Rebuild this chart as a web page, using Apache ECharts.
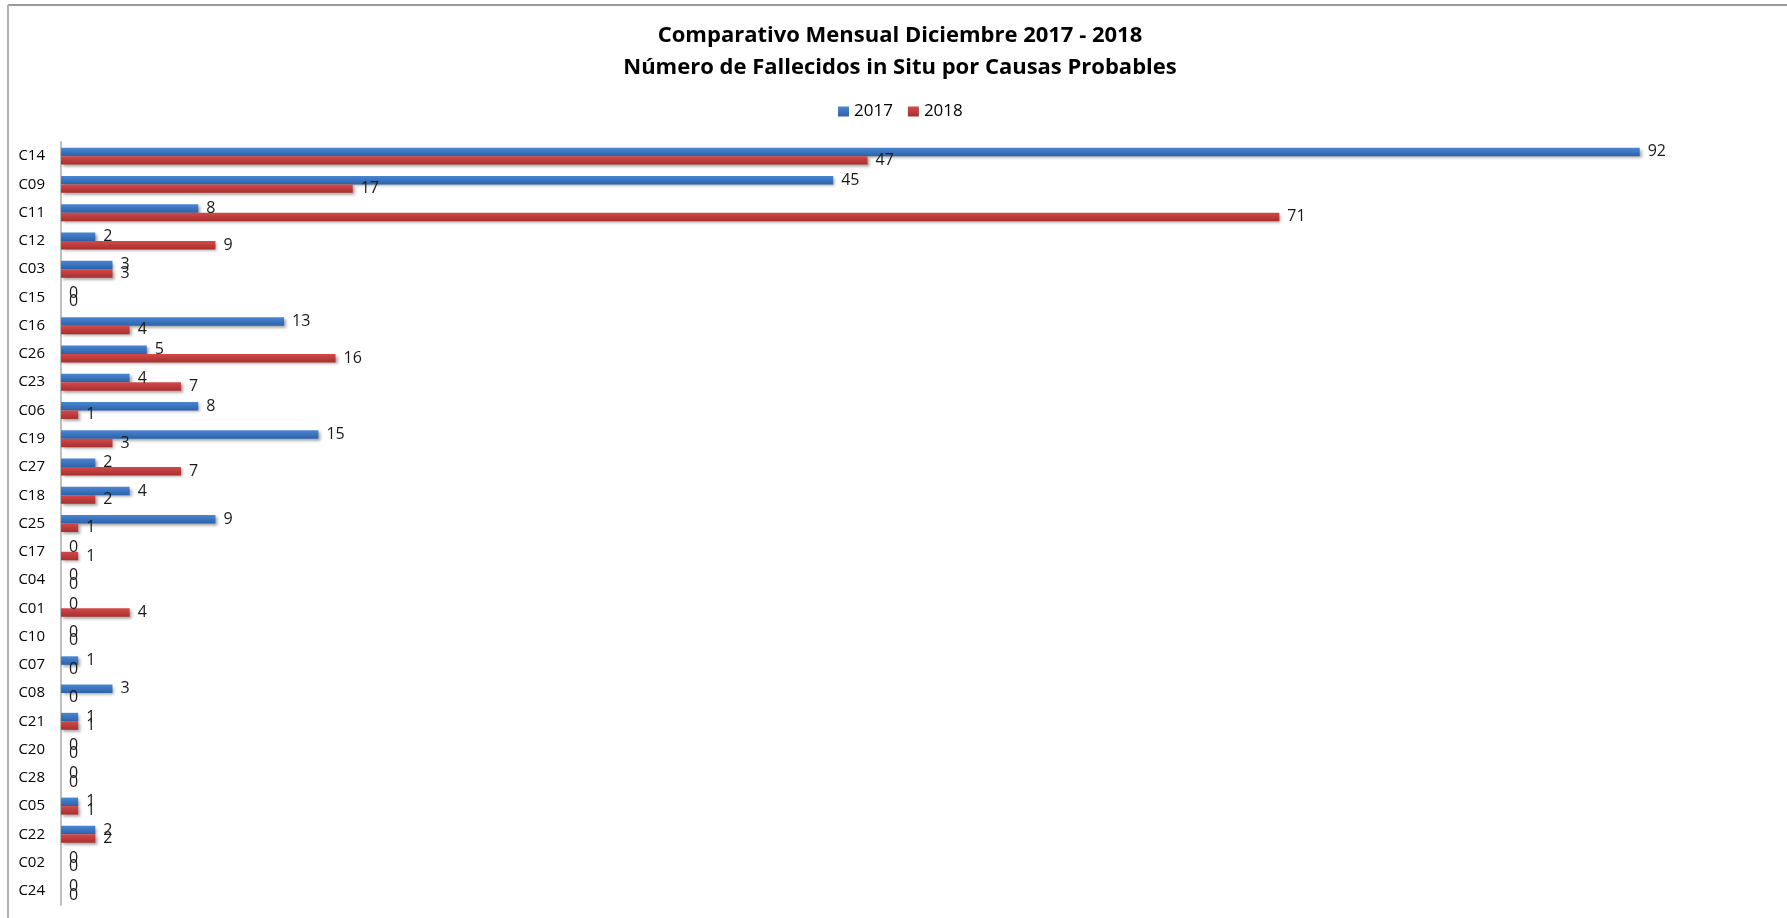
<!DOCTYPE html>
<html>
<head>
<meta charset="utf-8">
<script src="https://cdn.jsdelivr.net/npm/echarts@6/dist/echarts.min.js"></script>
<style>
html,body{margin:0;padding:0;background:#fff;}
#chart{width:1787px;height:918px;}
</style>
</head>
<body>
<div id="chart"></div>
<script>
const categories = ['C14','C09','C11','C12','C03','C15','C16','C26','C23','C06','C19','C27','C18','C25','C17','C04','C01','C10','C07','C08','C21','C20','C28','C05','C22','C02','C24'];
const values2017 = [92,45,8,2,3,0,13,5,4,8,15,2,4,9,0,0,0,0,1,3,1,0,0,1,2,0,0];
const values2018 = [47,17,71,9,3,0,4,16,7,1,3,7,2,1,1,0,4,0,0,0,1,0,0,1,2,0,0];
const seriesNames = ['2017','2018'];
const titleLines = ['Comparativo Mensual Diciembre 2017 - 2018','Número de Fallecidos in Situ por Causas Probables'];

const chart = echarts.init(document.getElementById('chart'), null, {renderer:'canvas'});

function grad(top, bottom){
  return new echarts.graphic.LinearGradient(0,0,0,1,[{offset:0,color:top},{offset:1,color:bottom}]);
}
const labelStyle = {show:true, position:'right', distance:8, color:'#1a1a1a', fontFamily:'Open Sans', fontSize:16};
const itemShadow = {shadowColor:'rgba(0,0,0,0.35)', shadowBlur:3, shadowOffsetX:2, shadowOffsetY:2};

chart.setOption({
  animation:false,
  backgroundColor:'#ffffff',
  title:{
    text: titleLines.join('\n'),
    left: 895,
    textAlign:'center',
    top: 15,
    textStyle:{fontFamily:'Open Sans', fontWeight:'bold', fontSize:22, lineHeight:32, color:'#000'}
  },
  legend:{
    data: seriesNames,
    left: 838,
    top: 103,
    padding:0,
    itemWidth:11,
    itemHeight:10,
    itemGap:15,
    icon:'rect',
    textStyle:{fontFamily:'Open Sans', fontSize:17, color:'#000'}
  },
  graphic:[
    {type:'line', shape:{x1:8,y1:5,x2:1787,y2:5}, style:{stroke:'#9a9a9a', lineWidth:2}},
    {type:'line', shape:{x1:8,y1:5,x2:8,y2:918}, style:{stroke:'#b0b0b0', lineWidth:2}}
  ],
  grid:{left:61, right:10, top:142, bottom:13, containLabel:false},
  xAxis:{type:'value', min:0, max:100, show:false},
  yAxis:{
    type:'category', data:categories, inverse:true,
    axisLine:{show:true, lineStyle:{color:'#c0c0c0', width:2}},
    axisTick:{show:false},
    axisLabel:{margin:16, color:'#000', fontFamily:'Open Sans', fontSize:15}
  },
  series:[
    {name:seriesNames[0], type:'bar', data:values2017, barGap:'0%', barCategoryGap:'40%',
     itemStyle:Object.assign({color:grad('#4a86d2','#2c62aa')}, itemShadow), label:labelStyle},
    {name:seriesNames[1], type:'bar', data:values2018, barGap:'0%', barCategoryGap:'40%',
     itemStyle:Object.assign({color:grad('#d24a48','#a82f2f')}, itemShadow), label:labelStyle}
  ]
});
</script>
</body>
</html>
